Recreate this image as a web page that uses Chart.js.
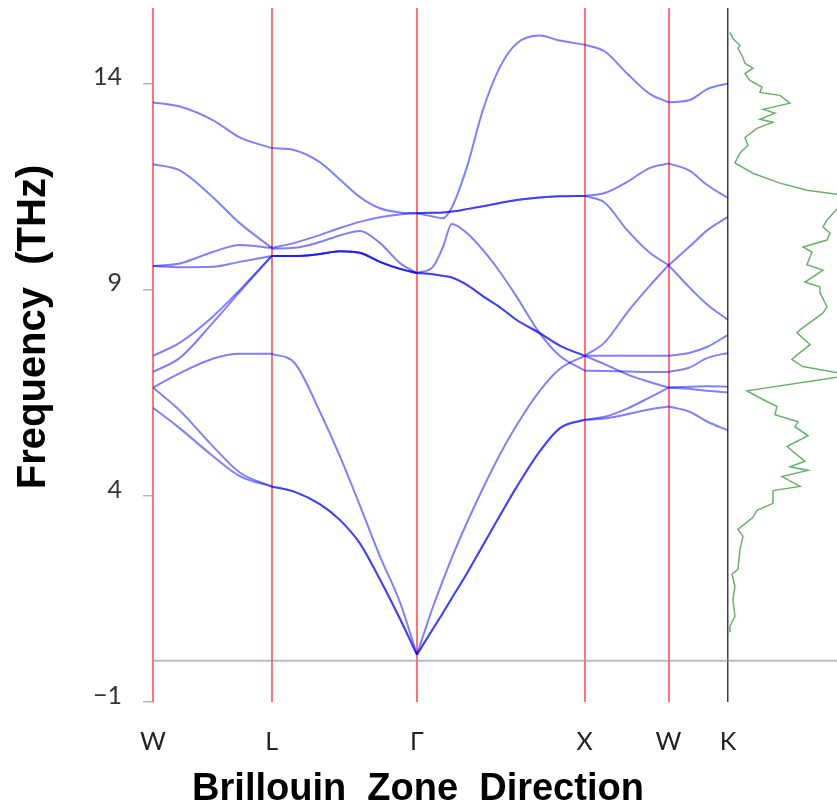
<!DOCTYPE html>
<html>
<head>
<meta charset="utf-8">
<script src="https://cdn.jsdelivr.net/npm/chart.js@4.4.0/dist/chart.umd.min.js"></script>
<style>
  html, body { margin: 0; padding: 0; background: #fff; }
</style>
</head>
<body>
<canvas id="phonon" width="837" height="809"></canvas>
<script>
// high-symmetry points along the k-path (distances in 2pi/a)
const kLabels = ['W', 'L', 'Γ', 'X', 'W', 'K'];
const kTicks = [0, 0.707, 1.573, 2.573, 3.073, 3.427];
const freqTicks = [-1, 4, 9, 14];

// k sample points of each path segment
const kWL = [0, 0.16, 0.356, 0.517, 0.707];
const kLG = [0.707, 0.845, 0.994, 1.113, 1.233, 1.352, 1.472, 1.573];
const kGX = [1.573, 1.668, 1.728, 1.781, 1.871, 1.966, 2.067, 2.168, 2.305, 2.424, 2.573];
const kXW = [2.573, 2.691, 2.826, 2.956, 3.073];
const kWK = [3.073, 3.195, 3.305, 3.427];

// phonon branches (THz), 9 per segment
const bandsWL = [
  [13.55, 13.45, 13.12, 12.70, 12.44],
  [12.05, 11.90, 11.25, 10.62, 10.02],
  [9.58, 9.64, 9.92, 10.09, 10.02],
  [9.58, 9.55, 9.56, 9.68, 9.82],
  [7.40, 7.72, 8.35, 9.00, 9.82],
  [7.01, 7.35, 8.20, 8.95, 9.82],
  [6.63, 6.98, 7.33, 7.45, 7.45],
  [6.63, 6.07, 5.21, 4.57, 4.23],
  [6.14, 5.64, 4.97, 4.48, 4.23]
];
const bandsLG = [
  [12.44, 12.39, 12.10, 11.68, 11.25, 10.98, 10.88, 10.86],
  [10.02, 10.14, 10.33, 10.50, 10.65, 10.76, 10.83, 10.86],
  [10.00, 10.02, 10.16, 10.32, 10.43, 10.14, 9.65, 9.41],
  [9.82, 9.82, 9.87, 9.94, 9.90, 9.68, 9.51, 9.41],
  [9.82, 9.82, 9.87, 9.94, 9.90, 9.68, 9.51, 9.41],
  [9.82, 9.82, 9.87, 9.94, 9.90, 9.68, 9.51, 9.41],
  [7.45, 7.22, 6.05, 4.97, 3.77, 2.54, 1.42, 0.15],
  [4.23, 4.10, 3.80, 3.42, 2.85, 1.98, 1.02, 0.15],
  [4.23, 4.10, 3.80, 3.42, 2.85, 1.98, 1.02, 0.15]
];
const bandsGX = [
  [10.86, 10.78, 10.74, 11.00, 11.98, 13.36, 14.40, 14.98, 15.17, 15.05, 14.95],
  [10.86, 10.87, 10.88, 10.90, 10.96, 11.03, 11.11, 11.18, 11.24, 11.27, 11.28],
  [9.41, 9.56, 10.04, 10.60, 10.38, 9.97, 9.44, 8.83, 7.95, 7.40, 7.04],
  [9.41, 9.38, 9.34, 9.30, 9.12, 8.85, 8.58, 8.27, 7.95, 7.65, 7.40],
  [9.41, 9.38, 9.34, 9.30, 9.12, 8.85, 8.58, 8.27, 7.95, 7.65, 7.40],
  [10.86, 10.87, 10.88, 10.90, 10.96, 11.03, 11.11, 11.18, 11.24, 11.27, 11.28],
  [0.15, 1.30, 1.95, 2.50, 3.35, 4.18, 5.00, 5.72, 6.55, 7.08, 7.40],
  [0.15, 0.77, 1.16, 1.52, 2.12, 2.80, 3.52, 4.22, 5.08, 5.64, 5.85],
  [0.15, 0.77, 1.16, 1.52, 2.12, 2.80, 3.52, 4.22, 5.08, 5.64, 5.85]
];
const bandsXW = [
  [14.95, 14.79, 14.25, 13.77, 13.55],
  [11.28, 11.35, 11.62, 11.95, 12.07],
  [7.04, 7.03, 7.02, 7.01, 7.01],
  [7.40, 7.40, 7.40, 7.40, 7.40],
  [7.40, 7.20, 6.95, 6.77, 6.63],
  [11.28, 11.12, 10.45, 9.92, 9.60],
  [7.40, 7.72, 8.45, 9.08, 9.60],
  [5.85, 5.92, 6.12, 6.38, 6.63],
  [5.85, 5.88, 5.98, 6.10, 6.17]
];
const bandsWK = [
  [13.55, 13.60, 13.87, 14.01],
  [12.07, 11.90, 11.54, 11.23],
  [7.01, 7.11, 7.35, 7.47],
  [7.40, 7.47, 7.62, 7.91],
  [6.63, 6.60, 6.55, 6.51],
  [9.60, 9.07, 8.64, 8.27],
  [9.60, 10.04, 10.45, 10.77],
  [6.63, 6.65, 6.66, 6.65],
  [6.17, 6.05, 5.80, 5.59]
];

// phonon density of states (arb. units) against frequency (THz)
const dosFreq = [15.25, 15.10, 14.93, 14.86, 14.64, 14.50, 14.38, 14.25, 14.08, 13.92,
  13.79, 13.72, 13.53, 13.38, 13.29, 13.14, 13.07, 12.92, 12.70, 12.51,
  12.32, 12.08, 11.83, 11.59, 11.42, 11.32, 11.23, 11.08, 10.94, 10.69,
  10.53, 10.38, 10.21, 10.04, 9.92, 9.61, 9.48, 9.19, 9.07, 8.93,
  8.59, 8.44, 8.03, 7.96, 7.67, 7.38, 7.31, 7.14, 7.01, 6.94,
  6.55, 6.34, 6.17, 5.97, 5.80, 5.68, 5.46, 5.20, 4.84, 4.71,
  4.62, 4.47, 4.23, 4.13, 3.82, 3.65, 3.48, 3.19, 3.02, 2.70,
  2.22, 2.10, 1.81, 1.49, 1.08, 0.84, 0.69];
const dosVal = [0.02, 0.05, 0.12, 0.10, 0.15, 0.17, 0.25, 0.17, 0.22, 0.34,
  0.32, 0.52, 0.62, 0.35, 0.47, 0.32, 0.45, 0.29, 0.17, 0.20,
  0.12, 0.07, 0.25, 0.52, 0.79, 1.09, 1.25, 1.15, 1.08, 0.99,
  0.95, 1.02, 0.99, 0.75, 0.84, 0.79, 0.95, 0.77, 0.92, 0.92,
  0.99, 0.95, 0.72, 0.69, 0.82, 0.67, 0.64, 0.75, 1.05, 1.25,
  0.19, 0.35, 0.49, 0.47, 0.70, 0.67, 0.80, 0.59, 0.77, 0.62,
  0.80, 0.54, 0.72, 0.45, 0.45, 0.29, 0.25, 0.10, 0.15, 0.12,
  0.10, 0.04, 0.07, 0.05, 0.07, 0.02, 0.02];

const kMax = 4.077;   // right edge of the plot, DOS panel lies beyond K
const dosMax = 1.09;  // DOS value at the right edge
const kK = kTicks[kTicks.length - 1];

const datasets = [];
[[kWL, bandsWL], [kLG, bandsLG], [kGX, bandsGX], [kXW, bandsXW], [kWK, bandsWK]].forEach(([ks, bands]) => {
  bands.forEach(b => {
    datasets.push({
      data: ks.map((k, i) => ({ x: k, y: b[i] })),
      borderColor: 'rgba(0,0,255,0.5)',
      borderWidth: 2,
      pointRadius: 0,
      cubicInterpolationMode: 'monotone'
    });
  });
});

// zero-frequency reference line
datasets.unshift({
  data: [{ x: 0, y: 0 }, { x: kMax, y: 0 }],
  borderColor: 'rgba(140,140,140,0.6)',
  borderWidth: 2,
  pointRadius: 0
});

// DOS drawn against its own horizontal scale, zero sitting on K
datasets.push({
  data: dosFreq.map((f, i) => ({ x: dosVal[i], y: f })),
  xAxisID: 'xd',
  borderColor: 'rgba(0,128,0,0.6)',
  borderWidth: 1.5,
  pointRadius: 0,
  tension: 0
});

const axisTitles = {
  id: 'axisTitles',
  afterDraw(chart) {
    const c = chart.ctx;
    c.save();
    c.fillStyle = '#000';
    c.textAlign = 'center';
    c.textBaseline = 'alphabetic';
    c.font = 'bold 38px "Liberation Sans", Arial, sans-serif';
    c.fillText('Brillouin  Zone  Direction', 418, 800);
    c.font = 'bold 40px "Liberation Sans", Arial, sans-serif';
    c.translate(45, 327);
    c.rotate(-Math.PI / 2);
    c.fillText('Frequency  (THz)', 0, 0);
    c.restore();
  }
};

new Chart(document.getElementById('phonon'), {
  type: 'line',
  data: { datasets },
  plugins: [axisTitles],
  options: {
    responsive: false,
    animation: false,
    layout: { padding: { top: 8, right: 0, left: 0, bottom: 0 } },
    plugins: { legend: { display: false }, tooltip: { enabled: false } },
    scales: {
      x: {
        type: 'linear',
        min: 0,
        max: kMax,
        afterBuildTicks: s => { s.ticks = kTicks.map(v => ({ value: v })); },
        afterFit: s => { s.height = 107; s.paddingLeft = 0; s.paddingRight = 0; },
        border: { display: false },
        grid: {
          drawTicks: false,
          lineWidth: ctx => (ctx.index === 5 ? 1.5 : 2),
          color: ctx => (ctx.index === 5 ? 'rgba(0,0,0,0.75)' : 'rgba(255,0,0,0.55)')
        },
        ticks: {
          autoSkip: false,
          maxRotation: 0,
          padding: 25,
          color: '#222',
          font: { family: 'Lato', size: 25 },
          callback: (v, i) => kLabels[i]
        }
      },
      xd: {
        type: 'linear',
        display: false,
        min: -dosMax * kK / (kMax - kK),
        max: dosMax
      },
      y: {
        type: 'linear',
        min: -1,
        max: 15.84,
        afterBuildTicks: s => { s.ticks = freqTicks.map(v => ({ value: v })); },
        afterFit: s => { s.width = 153; s.paddingTop = 0; s.paddingBottom = 0; },
        border: { display: false },
        grid: {
          drawOnChartArea: false,
          tickLength: 10,
          lineWidth: 1.5,
          color: 'rgba(150,150,150,0.7)'
        },
        ticks: {
          padding: 21,
          color: '#333',
          font: { family: 'Lato', size: 25, lineHeight: '13px' },
          // second empty line lifts the number slightly above its tick, as in the source
          callback: v => [(v < 0 ? '\u2212' + Math.abs(v) : String(v)), '']
        }
      }
    }
  }
});
</script>
</body>
</html>
